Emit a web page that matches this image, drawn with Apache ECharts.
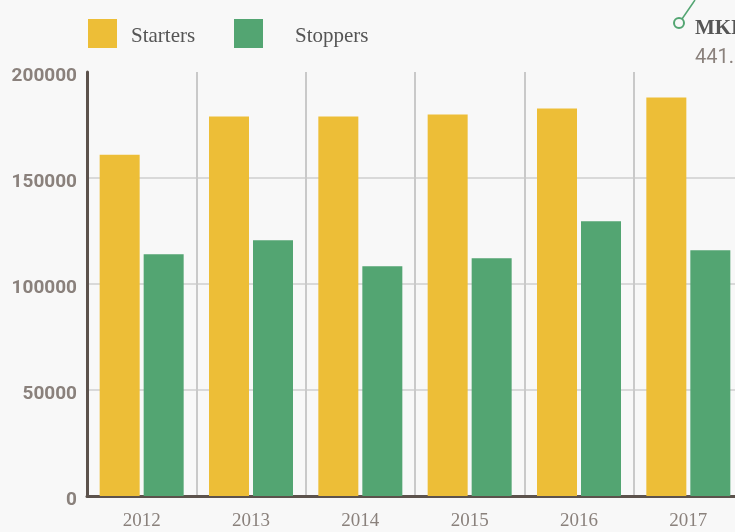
<!DOCTYPE html>
<html>
<head>
<meta charset="utf-8">
<script src="https://cdn.jsdelivr.net/npm/echarts@6/dist/echarts.min.js"></script>
<style>
html,body{margin:0;padding:0;background:#f8f8f8;overflow:hidden;width:735px;height:532px;}
#c{width:745px;height:532px;}
</style>
</head>
<body>
<div id="c"></div>
<script>
const years = ['2012', '2013', '2014', '2015', '2016', '2017'];
const starters = [161000, 179000, 179000, 180000, 182800, 188000];
const stoppers = [114000, 120600, 108400, 112100, 129600, 115900];
const yTicks = [0, 50000, 100000, 150000, 200000];
const seriesNames = ['Starters', 'Stoppers'];

const chart = echarts.init(document.getElementById('c'), null, {renderer: 'canvas'});
const serif = '"Liberation Serif", serif';
function legendOpt(name, left, padLeft) {
  return {
    data: [name], left: left, top: 19, padding: 0, itemWidth: 29, itemHeight: 29, icon: 'rect',
    formatter: n => '{t|' + n + '}',
    textStyle: {
      rich: {t: {fontFamily: serif, fontSize: 21, color: '#555', padding: [6, 0, 0, padLeft]}}
    }
  };
}
chart.setOption({
  backgroundColor: '#f8f8f8',
  animation: false,
  legend: [legendOpt(seriesNames[0], 88, 9), legendOpt(seriesNames[1], 234, 27)],
  grid: {left: 87, top: 72, right: 2, bottom: 36, containLabel: false},
  xAxis: {
    type: 'category',
    data: years,
    axisLine: {lineStyle: {color: '#5c524c', width: 3}},
    axisTick: {show: false},
    axisLabel: {fontFamily: serif, fontSize: 19, color: '#8a817c', margin: 16},
    splitLine: {show: true, interval: 0, lineStyle: {color: '#c9c9c9', width: 2}}
  },
  yAxis: {
    type: 'value',
    min: yTicks[0],
    max: yTicks[yTicks.length - 1],
    interval: yTicks[1] - yTicks[0],
    axisLine: {show: true, lineStyle: {color: '#5c524c', width: 3}},
    axisTick: {show: false},
    axisLabel: {margin: 10, formatter: v => '{v|' + v + '}',
      rich: {v: {fontFamily: 'Roboto', fontWeight: 'bold', fontSize: 19, color: '#8a817c', padding: [8, 0, 0, 0]}}},
    splitLine: {show: true, showMaxLine: false, showMinLine: false, lineStyle: {color: '#d9d9d9', width: 2}}
  },
  series: [
    {name: seriesNames[0], type: 'bar', data: starters, barWidth: 40, barGap: '10%', itemStyle: {color: '#edbe37'}},
    {name: seriesNames[1], type: 'bar', data: stoppers, barWidth: 40, barGap: '10%', itemStyle: {color: '#53a572'}}
  ],
  graphic: [
    {type: 'line', shape: {x1: 682, y1: 19, x2: 695, y2: 0}, style: {stroke: '#53a572', lineWidth: 1.5}},
    {type: 'circle', shape: {cx: 679, cy: 23, r: 5}, style: {fill: '#f8f8f8', stroke: '#53a572', lineWidth: 2}},
    {type: 'text', left: 695, top: 18, style: {text: 'MKB', font: 'bold 21px "Liberation Serif", serif', fill: '#555'}},
    {type: 'text', left: 695, top: 48, style: {text: '441.000', font: '20px Roboto', fill: '#8a817c'}}
  ]
});
</script>
</body>
</html>
